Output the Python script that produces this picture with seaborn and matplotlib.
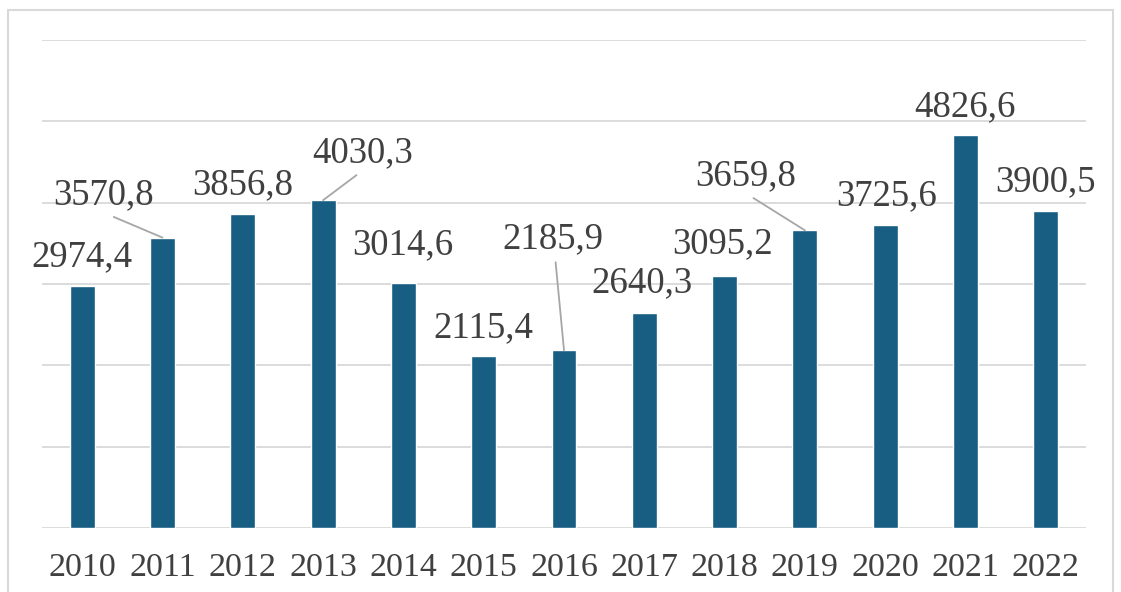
import matplotlib
matplotlib.use("Agg")
import matplotlib.pyplot as plt
import seaborn as sns
import pandas as pd
from matplotlib.patches import Rectangle

years = ["2010", "2011", "2012", "2013", "2014", "2015", "2016",
         "2017", "2018", "2019", "2020", "2021", "2022"]
values = [2974.4, 3570.8, 3856.8, 4030.3, 3014.6, 2115.4, 2185.9,
          2640.3, 3095.2, 3659.8, 3725.6, 4826.6, 3900.5]
value_labels = ["2974,4", "3570,8", "3856,8", "4030,3", "3014,6", "2115,4", "2185,9",
                "2640,3", "3095,2", "3659,8", "3725,6", "4826,6", "3900,5"]

# label offsets (pixels: dx, baseline height above bar top); leader-line settings
offsets = [(0, 20), (-59, 33), (0, 20), (40, 38), (-1, 29), (0, 19), (-11, 102),
           (-2, 21), (-2, 23), (-59, 45), (1, 20), (-1, 19), (0, 20)]
leaders = {1: (0.5, 0.0), 3: (0.5, 0.0), 6: (0.52, 0.0), 9: (0.5, 0.0)}

sns.set_style("white")
plt.rcParams["font.family"] = ["Liberation Serif", "DejaVu Serif"]

bar_color = "#175E82"
text_color = "#404040"
grid_color = "#d9d9d9"

fig = plt.figure(figsize=(11.21, 5.92), dpi=100)
ax = fig.add_axes([42 / 1121, 1 - 528 / 592, (1086 - 42) / 1121, (528 - 40) / 592])

df = pd.DataFrame({"year": years, "value": values})
sns.barplot(data=df, x="year", y="value", color=bar_color, saturation=1,
            width=0.31, ax=ax, zorder=3)

ax.set_ylim(0, 6000)
ax.set_xlim(-0.5, len(years) - 0.5)
ax.set_yticks(range(0, 6001, 1000))
ax.yaxis.grid(True, color=grid_color, linewidth=1.3, zorder=0)
ax.set_axisbelow(True)
ax.set_yticklabels([])
ax.tick_params(axis="y", length=0)
ax.tick_params(axis="x", length=0, pad=18, labelsize=24.5, labelcolor=text_color)
ax.set_xlabel("")
ax.set_ylabel("")
for s in ax.spines.values():
    s.set_visible(False)

for i, (v, lab) in enumerate(zip(values, value_labels)):
    dx, dy = offsets[i]
    kw = {}
    if i in leaders:
        kw["arrowprops"] = dict(arrowstyle="-", color="#a6a6a6", lw=1.3,
                                relpos=leaders[i], shrinkA=2, shrinkB=0)
    ax.annotate(lab, xy=(i, v), xytext=(dx, dy), textcoords="offset pixels",
                ha="center", va="baseline", fontsize=26.5, color=text_color,
                annotation_clip=False, zorder=4, **kw)

fig.patches.append(Rectangle((8 / 1121, -0.05), (1113 - 8) / 1121, 1.05 - 10 / 592,
                             transform=fig.transFigure, fill=False,
                             edgecolor="#d9d9d9", linewidth=1.5))

fig.savefig("out.png", dpi=100, facecolor="white")
